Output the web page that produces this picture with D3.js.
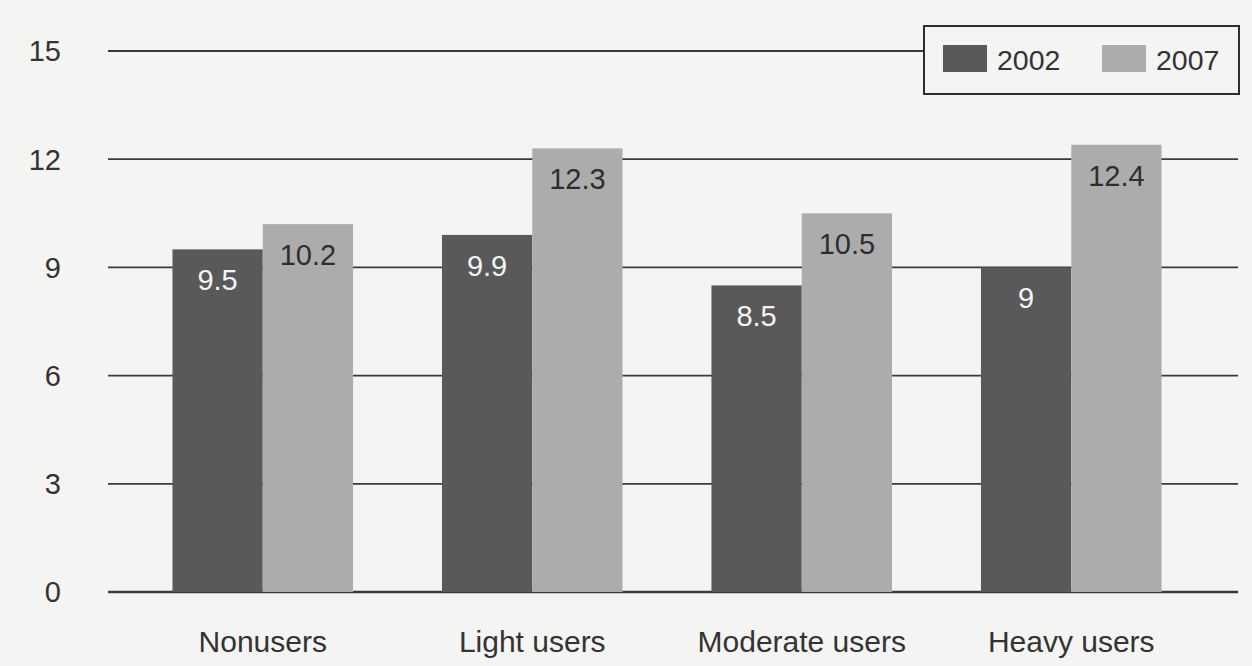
<!DOCTYPE html>
<html>
<head>
<meta charset="utf-8">
<script src="https://cdn.jsdelivr.net/npm/d3@7"></script>
<style>
  html, body { margin: 0; padding: 0; background: #f4f4f2; }
  svg { display: block; }
  text { font-family: "Liberation Sans", Arial, sans-serif; }
</style>
</head>
<body>
<svg id="chart" width="1252" height="666"></svg>
<script>
// Chart data
const categories = ["Nonusers", "Light users", "Moderate users", "Heavy users"];
const seriesNames = ["2002", "2007"];
const values2002 = [9.5, 9.9, 8.5, 9];
const values2007 = [10.2, 12.3, 10.5, 12.4];
const tickValues = [0, 3, 6, 9, 12, 15];

const seriesValues = { "2002": values2002, "2007": values2007 };
const colors = { "2002": "#595959", "2007": "#acacac" };
const labelColors = { "2002": "#f4f4f4", "2007": "#2e2e2e" };

const svg = d3.select("#chart");
const W = 1252, H = 666;

svg.append("rect").attr("width", W).attr("height", H).attr("fill", "#f4f4f2");

const y = d3.scaleLinear().domain([0, 15]).range([592, 51]);
const x = d3.scaleBand().domain(categories).range([128, 1206])
  .paddingInner(0.33).paddingOuter(0.165);
const xs = d3.scaleBand().domain(seriesNames).range([0, x.bandwidth()]);

// Horizontal grid lines
const gridX0 = 108, gridX1 = 1238;
svg.append("g").selectAll("line").data(tickValues).join("line")
  .attr("x1", gridX0).attr("x2", gridX1)
  .attr("y1", d => y(d)).attr("y2", d => y(d))
  .attr("stroke", "#3a3a3a")
  .attr("stroke-width", d => d === 0 ? 2.5 : 1.8);

// Y tick labels
svg.append("g").selectAll("text").data(tickValues).join("text")
  .attr("x", 61).attr("y", d => y(d)).attr("dy", "0.36em")
  .attr("text-anchor", "end")
  .attr("font-size", 29).attr("fill", "#333")
  .text(d => d);

// Bars
const groups = svg.append("g").selectAll("g").data(categories).join("g")
  .attr("transform", d => `translate(${x(d)},0)`);

groups.selectAll("rect")
  .data((c, i) => seriesNames.map(s => ({ s, v: seriesValues[s][i] })))
  .join("rect")
  .attr("x", d => xs(d.s))
  .attr("width", xs.bandwidth())
  .attr("y", d => y(d.v))
  .attr("height", d => y(0) - y(d.v))
  .attr("fill", d => colors[d.s]);

// Value labels inside the bars
groups.selectAll("text.val")
  .data((c, i) => seriesNames.map(s => ({ s, v: seriesValues[s][i] })))
  .join("text")
  .attr("class", "val")
  .attr("x", d => xs(d.s) + xs.bandwidth() / 2)
  .attr("y", d => y(d.v) + 41)
  .attr("text-anchor", "middle")
  .attr("font-size", 29)
  .attr("fill", d => labelColors[d.s])
  .text(d => d.v);

// Category labels
svg.append("g").selectAll("text").data(categories).join("text")
  .attr("x", d => x(d) + x.bandwidth() / 2)
  .attr("y", 652)
  .attr("text-anchor", "middle")
  .attr("font-size", 30)
  .attr("fill", "#333")
  .text(d => d);

// Legend
const legend = svg.append("g");
legend.append("rect")
  .attr("x", 924).attr("y", 26).attr("width", 315).attr("height", 68)
  .attr("fill", "#f4f4f2").attr("stroke", "#2e2e2e").attr("stroke-width", 2);
const legendItems = [
  { s: "2002", sx: 943, tx: 997 },
  { s: "2007", sx: 1102, tx: 1156 }
];
legend.selectAll("rect.sw").data(legendItems).join("rect")
  .attr("class", "sw")
  .attr("x", d => d.sx).attr("y", 45).attr("width", 44).attr("height", 27)
  .attr("fill", d => colors[d.s]);
legend.selectAll("text").data(legendItems).join("text")
  .attr("x", d => d.tx).attr("y", 70)
  .attr("font-size", 28.5).attr("fill", "#333")
  .text(d => d.s);
</script>
</body>
</html>
